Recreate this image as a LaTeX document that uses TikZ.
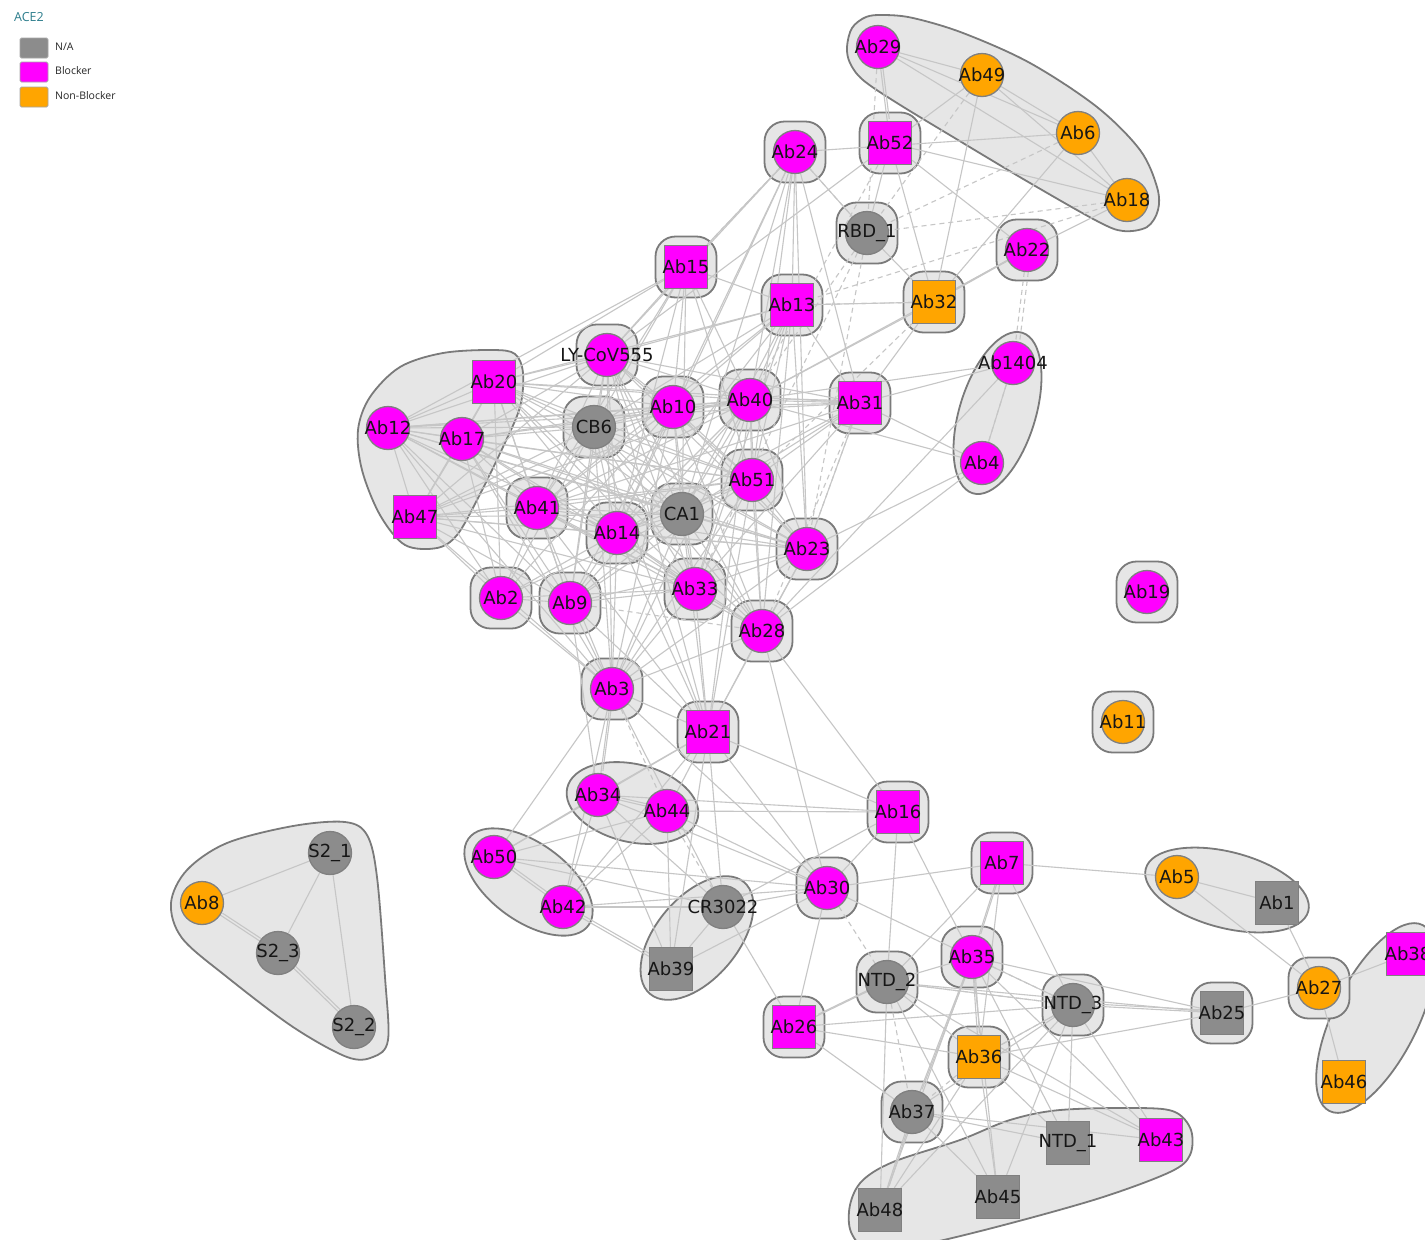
\documentclass[tikz,border=0pt]{standalone}
\usepackage{fontspec}
\setmainfont{DejaVu Sans}
\newfontfamily\legfont{Open Sans}
\pgfdeclarelayer{bg}
\pgfdeclarelayer{edgelayer}
\pgfsetlayers{bg,edgelayer,main}
\definecolor{mag}{HTML}{FF00FF}
\definecolor{org}{HTML}{FFA500}
\definecolor{gry}{HTML}{8C8C8C}
\definecolor{nbord}{HTML}{808080}
\definecolor{grpfill}{HTML}{E6E6E6}
\definecolor{grpedge}{HTML}{7A7A7A}
\definecolor{edgecol}{HTML}{C6C6C6}
\definecolor{labtext}{HTML}{161616}
\definecolor{acecol}{HTML}{2C7D8C}
\begin{document}
\begin{tikzpicture}[x=1pt,y=-1pt,
  nd/.style={minimum size=43pt, inner sep=0pt, draw=nbord, line width=1.3pt},
  cn/.style={nd, circle},
  sn/.style={nd, rectangle},
  mg/.style={fill=mag}, og/.style={fill=org}, gy/.style={fill=gry},
  labsty/.style={font=\fontsize{18}{20}\selectfont, text=labtext, inner sep=0pt},
  lbl/.style={label={[labsty]center:#1}},
  sqc/.style={rectangle, minimum size=61pt, rounded corners=20pt, fill=grpfill, draw=grpedge, line width=1.8pt},
  grp/.style={fill=grpfill, draw=grpedge, line width=1.8pt},
  edge/.style={draw=edgecol, line width=1.1pt},
  dedge/.style={edge, dash pattern=on 5pt off 4pt},
  swatch/.style={rectangle, minimum width=28pt, minimum height=20pt, inner sep=0pt, rounded corners=1.5pt, draw=gray!70, line width=0.8pt},
  legtext/.style={font=\legfont\fontsize{10.5}{12}\selectfont, text=black!85, anchor=west, inner sep=0pt}
]
\useasboundingbox (0,0) rectangle (1425,1240);

% ---------- nodes ----------
\node[cn,mg,lbl=Ab29] (Ab29) at (878,47) {};
\node[cn,og,lbl=Ab49] (Ab49) at (982,75) {};
\node[cn,og,lbl=Ab6] (Ab6) at (1078,133) {};
\node[cn,og,lbl=Ab18] (Ab18) at (1127,200) {};
\node[sn,mg,lbl=Ab52] (Ab52) at (890,143) {};
\node[cn,mg,lbl=Ab24] (Ab24) at (795,152) {};
\node[cn,gy,lbl={RBD\_1}] (RBD1) at (867,233) {};
\node[cn,mg,lbl=Ab22] (Ab22) at (1027,250) {};
\node[sn,mg,lbl=Ab15] (Ab15) at (686,267) {};
\node[sn,mg,lbl=Ab13] (Ab13) at (792,305) {};
\node[sn,og,lbl=Ab32] (Ab32) at (934,302) {};
\node[cn,mg,lbl=LY-CoV555] (LY) at (607,355) {};
\node[cn,mg,lbl=Ab1404] (Ab1404) at (1013,363) {};
\node[cn,mg,lbl=Ab4] (Ab4) at (982,463) {};
\node[sn,mg,lbl=Ab20] (Ab20) at (494,382) {};
\node[cn,mg,lbl=Ab12] (Ab12) at (388,428) {};
\node[cn,mg,lbl=Ab17] (Ab17) at (462,439) {};
\node[sn,mg,lbl=Ab47] (Ab47) at (415,517) {};
\node[cn,gy,lbl=CB6] (CB6) at (594,427) {};
\node[cn,mg,lbl=Ab10] (Ab10) at (673,407) {};
\node[cn,mg,lbl=Ab40] (Ab40) at (750,400) {};
\node[sn,mg,lbl=Ab31] (Ab31) at (860,403) {};
\node[cn,mg,lbl=Ab51] (Ab51) at (752,480) {};
\node[cn,gy,lbl=CA1] (CA1) at (682,514) {};
\node[cn,mg,lbl=Ab41] (Ab41) at (537,508) {};
\node[cn,mg,lbl=Ab14] (Ab14) at (617,533) {};
\node[cn,mg,lbl=Ab23] (Ab23) at (807,549) {};
\node[cn,mg,lbl=Ab2] (Ab2) at (501,598) {};
\node[cn,mg,lbl=Ab9] (Ab9) at (570,603) {};
\node[cn,mg,lbl=Ab33] (Ab33) at (695,589) {};
\node[cn,mg,lbl=Ab28] (Ab28) at (762,631) {};
\node[cn,mg,lbl=Ab3] (Ab3) at (612,689) {};
\node[sn,mg,lbl=Ab21] (Ab21) at (708,732) {};
\node[cn,mg,lbl=Ab19] (Ab19) at (1147,592) {};
\node[cn,og,lbl=Ab11] (Ab11) at (1123,722) {};
\node[cn,mg,lbl=Ab34] (Ab34) at (598,795) {};
\node[cn,mg,lbl=Ab44] (Ab44) at (667,811) {};
\node[sn,mg,lbl=Ab16] (Ab16) at (898,812) {};
\node[cn,mg,lbl=Ab50] (Ab50) at (494,857) {};
\node[cn,mg,lbl=Ab42] (Ab42) at (563,907) {};
\node[cn,gy,lbl=CR3022] (CR) at (723,907) {};
\node[sn,gy,lbl=Ab39] (Ab39) at (671,969) {};
\node[cn,mg,lbl=Ab30] (Ab30) at (827,888) {};
\node[sn,mg,lbl=Ab7] (Ab7) at (1002,863) {};
\node[cn,og,lbl=Ab5] (Ab5) at (1177,877) {};
\node[sn,gy,lbl=Ab1] (Ab1) at (1277,903) {};
\node[sn,mg,lbl=Ab38] (Ab38) at (1408,954) {};
\node[cn,og,lbl=Ab27] (Ab27) at (1319,988) {};
\node[sn,og,lbl=Ab46] (Ab46) at (1344,1082) {};
\node[sn,gy,lbl=Ab25] (Ab25) at (1222,1013) {};
\node[cn,gy,lbl={NTD\_2}] (NTD2) at (887,982) {};
\node[cn,mg,lbl=Ab35] (Ab35) at (972,957) {};
\node[cn,gy,lbl={NTD\_3}] (NTD3) at (1073,1005) {};
\node[sn,mg,lbl=Ab26] (Ab26) at (794,1027) {};
\node[sn,og,lbl=Ab36] (Ab36) at (979,1057) {};
\node[cn,gy,lbl=Ab37] (Ab37) at (912,1112) {};
\node[sn,gy,lbl={NTD\_1}] (NTD1) at (1068,1143) {};
\node[sn,mg,lbl=Ab43] (Ab43) at (1161,1140) {};
\node[sn,gy,lbl=Ab48] (Ab48) at (880,1210) {};
\node[sn,gy,lbl=Ab45] (Ab45) at (998,1197) {};
\node[cn,gy,lbl={S2\_1}] (S21) at (330,853) {};
\node[cn,og,lbl=Ab8] (Ab8) at (202,903) {};
\node[cn,gy,lbl={S2\_3}] (S23) at (278,953) {};
\node[cn,gy,lbl={S2\_2}] (S22) at (354,1027) {};

% ---------- legend ----------
\node[font=\legfont\fontsize{12.5}{14}\selectfont, text=acecol, anchor=west, inner sep=0pt] (legtitle) at (14,17) {ACE2};
\node[swatch, fill=gry] (sw1) at (34,48) {};
\node[swatch, fill=mag] (sw2) at (34,72) {};
\node[swatch, fill=org] (sw3) at (34,97) {};
\node[legtext] (lt1) at (55,47) {N/A};
\node[legtext] (lt2) at (55,71) {Blocker};
\node[legtext] (lt3) at (55,96) {Non-Blocker};

% ---------- groups ----------
\begin{pgfonlayer}{bg}
\fill[white] (0,0) rectangle (1425,1240);
% top group
\draw[grp] plot[smooth cycle, tension=0.55] coordinates {(847,47) (852,28) (866,17) (884,15) (913,18) (963,33) (1030,63) (1097,107) (1140,150) (1157,187) (1158,210) (1147,227) (1123,231) (1097,221) (1030,183) (963,143) (897,103) (863,80) (850,63)};
% Ab12 group
\draw[grp] plot[smooth cycle, tension=0.55] coordinates {(358,430) (370,397) (400,367) (443,353) (493,350) (515,354) (523,373) (520,407) (503,447) (477,500) (457,535) (437,548) (405,545) (380,515) (362,470)};
% S2 group
\draw[grp] plot[smooth cycle, tension=0.55] coordinates {(171,903) (187,870) (227,843) (293,826) (345,822) (367,835) (377,877) (385,977) (388,1040) (373,1057) (347,1057) (293,1027) (227,977) (182,938)};
% bottom group
\draw[grp] plot[smooth cycle, tension=0.55] coordinates {(850,1205) (862,1181) (893,1162) (960,1140) (1010,1120) (1060,1110) (1140,1108) (1175,1112) (1191,1130) (1190,1155) (1170,1172) (1100,1198) (1000,1226) (920,1245) (870,1250) (851,1232)};
% two-node groups (ellipses)
\draw[grp, rotate around={72.8:(997.5,413)}] (997.5,413) ellipse [x radius=84, y radius=38];
\draw[grp, rotate around={-13.1:(632.5,803)}] (632.5,803) ellipse [x radius=67, y radius=39];
\draw[grp, rotate around={-35.9:(528.5,882)}] (528.5,882) ellipse [x radius=74, y radius=39];
\draw[grp, rotate around={50:(697,938)}] (697,938) ellipse [x radius=73, y radius=41];
\draw[grp, rotate around={-14.6:(1227,890)}] (1227,890) ellipse [x radius=84, y radius=38];
\draw[grp, rotate around={63.4:(1376,1018)}] (1376,1018) ellipse [x radius=104, y radius=42];
% singleton groups
\foreach \n in {Ab52,Ab24,RBD1,Ab22,Ab15,Ab13,Ab32,LY,CB6,Ab10,Ab40,Ab31,Ab51,CA1,Ab41,Ab14,Ab23,Ab2,Ab9,Ab33,Ab28,Ab3,Ab21,Ab19,Ab11,Ab16,Ab30,Ab7,Ab25,Ab27,NTD2,Ab35,NTD3,Ab26,Ab36,Ab37}
  \node[sqc] (g\n) at (\n) {};
\end{pgfonlayer}

% ---------- edges ----------
\begin{pgfonlayer}{edgelayer}
% top group
\foreach \a/\b in {Ab29/Ab49,Ab29/Ab6,Ab29/Ab18,Ab49/Ab6,Ab49/Ab18,Ab6/Ab18,Ab29/Ab52,Ab24/Ab6,Ab52/Ab18,
  Ab49/Ab32,Ab6/Ab32,Ab18/Ab22,Ab52/Ab32,Ab52/RBD1,Ab52/Ab22,Ab49/LY,
  Ab24/Ab15,Ab24/Ab13,Ab24/RBD1,Ab24/Ab31,Ab24/Ab10,Ab24/Ab40,Ab24/LY,Ab24/Ab51,Ab24/CA1,Ab24/Ab23,Ab24/Ab14,
  Ab13/Ab32,Ab13/Ab31,Ab13/Ab40,Ab32/Ab40,Ab32/Ab31,Ab32/Ab22,RBD1/Ab32,Ab22/Ab40,
  Ab1404/Ab31,Ab1404/Ab40,Ab1404/Ab4,Ab1404/Ab28,Ab4/Ab31,Ab4/Ab40,Ab4/Ab28,Ab4/Ab23,
  Ab31/Ab40,Ab31/Ab10,Ab31/LY,Ab31/Ab51,Ab31/Ab23,Ab31/CA1,Ab31/Ab14,Ab31/Ab33,Ab31/Ab20,Ab31/Ab12,Ab31/Ab41}
  \draw[edge] (\a) -- (\b);
% central cluster
\foreach \a/\b in {Ab12/Ab17,Ab12/Ab20,Ab12/Ab47,Ab12/LY,Ab12/CB6,Ab12/Ab10,Ab12/Ab40,Ab12/Ab15,Ab12/Ab41,Ab12/Ab14,Ab12/CA1,Ab12/Ab51,Ab12/Ab23,Ab12/Ab2,Ab12/Ab9,Ab12/Ab33,Ab12/Ab3,
  Ab17/Ab20,Ab17/Ab47,Ab17/LY,Ab17/CB6,Ab17/Ab10,Ab17/Ab40,Ab17/Ab41,Ab17/Ab14,Ab17/CA1,Ab17/Ab51,Ab17/Ab23,Ab17/Ab9,Ab17/Ab33,Ab17/Ab3,Ab17/Ab2,
  Ab20/Ab47,Ab20/LY,Ab20/CB6,Ab20/Ab10,Ab20/Ab40,Ab20/Ab15,Ab20/Ab13,Ab20/Ab41,Ab20/Ab14,Ab20/CA1,Ab20/Ab51,Ab20/Ab23,Ab20/Ab2,Ab20/Ab9,Ab20/Ab33,Ab20/Ab28,
  Ab47/LY,Ab47/CB6,Ab47/Ab10,Ab47/Ab40,Ab47/Ab41,Ab47/Ab14,Ab47/CA1,Ab47/Ab51,Ab47/Ab23,Ab47/Ab2,Ab47/Ab9,Ab47/Ab33,Ab47/Ab3,
  LY/CB6,LY/Ab10,LY/Ab40,LY/Ab15,LY/Ab13,LY/Ab41,LY/Ab14,LY/CA1,LY/Ab51,LY/Ab23,LY/Ab9,LY/Ab33,LY/Ab28,LY/Ab3,LY/Ab21,
  CB6/Ab10,CB6/Ab40,CB6/Ab15,CB6/Ab13,CB6/Ab41,CB6/Ab14,CB6/CA1,CB6/Ab51,CB6/Ab23,CB6/Ab2,CB6/Ab9,CB6/Ab33,CB6/Ab28,CB6/Ab3,CB6/Ab21,
  Ab10/Ab40,Ab10/Ab15,Ab10/Ab13,Ab10/Ab41,Ab10/Ab14,Ab10/CA1,Ab10/Ab51,Ab10/Ab23,Ab10/Ab2,Ab10/Ab9,Ab10/Ab33,Ab10/Ab28,Ab10/Ab3,
  Ab40/Ab15,Ab40/Ab41,Ab40/Ab14,Ab40/CA1,Ab40/Ab51,Ab40/Ab23,Ab40/Ab9,Ab40/Ab33,Ab40/Ab28,Ab40/Ab3,Ab40/Ab21,
  Ab15/Ab13,Ab15/Ab41,Ab15/Ab14,Ab15/CA1,Ab15/Ab51,
  Ab13/Ab41,Ab13/Ab14,Ab13/CA1,Ab13/Ab51,Ab13/Ab23,Ab13/Ab33,Ab13/Ab28,
  Ab41/Ab14,Ab41/CA1,Ab41/Ab51,Ab41/Ab23,Ab41/Ab2,Ab41/Ab9,Ab41/Ab33,Ab41/Ab28,Ab41/Ab3,Ab41/Ab21,
  Ab14/CA1,Ab14/Ab51,Ab14/Ab23,Ab14/Ab2,Ab14/Ab9,Ab14/Ab33,Ab14/Ab28,Ab14/Ab3,Ab14/Ab21,
  CA1/Ab51,CA1/Ab23,CA1/Ab2,CA1/Ab9,CA1/Ab33,CA1/Ab28,CA1/Ab3,CA1/Ab21,
  Ab51/Ab23,Ab51/Ab9,Ab51/Ab33,Ab51/Ab28,Ab51/Ab3,Ab51/Ab21,
  Ab23/Ab9,Ab23/Ab33,Ab23/Ab28,Ab23/Ab3,Ab23/Ab21,
  Ab2/Ab9,Ab2/Ab33,Ab2/Ab3,Ab9/Ab33,Ab9/Ab3,Ab9/Ab21,Ab33/Ab28,Ab33/Ab3,Ab33/Ab21,Ab28/Ab3,Ab28/Ab21,Ab3/Ab21}
  \draw[edge] (\a) -- (\b);
% lower part
\foreach \a/\b in {Ab3/Ab34,Ab3/Ab50,Ab3/Ab42,Ab3/CR,Ab3/Ab30,
  Ab21/Ab34,Ab21/Ab44,Ab21/Ab50,Ab21/Ab42,Ab21/CR,Ab21/Ab39,Ab21/Ab30,Ab21/Ab16,
  Ab9/Ab34,Ab28/Ab16,Ab28/Ab30,
  Ab34/Ab44,Ab34/Ab50,Ab34/Ab42,Ab34/Ab39,Ab34/Ab16,Ab34/Ab30,Ab34/CR,
  Ab44/Ab50,Ab44/Ab42,Ab44/Ab16,Ab44/Ab30,Ab44/Ab39,
  Ab50/Ab42,Ab50/Ab30,Ab50/CR,Ab42/Ab30,Ab42/CR,Ab42/Ab39,
  CR/Ab39,CR/Ab30,CR/Ab16,CR/Ab26,Ab39/Ab30,
  Ab30/Ab16,Ab30/Ab7,Ab30/Ab26,Ab30/Ab35,Ab16/NTD2,Ab16/Ab35,
  Ab7/Ab35,Ab7/Ab36,Ab7/NTD2,Ab7/NTD3,Ab7/Ab5,
  Ab35/NTD2,Ab35/NTD3,Ab35/Ab36,Ab35/Ab37,Ab35/Ab48,Ab35/Ab45,Ab35/NTD1,Ab35/Ab43,Ab35/Ab25,
  NTD2/Ab26,NTD2/NTD3,NTD2/Ab36,NTD2/Ab48,NTD2/Ab45,NTD2/Ab25,NTD2/Ab43,
  NTD3/Ab25,NTD3/Ab37,NTD3/Ab48,NTD3/NTD1,NTD3/Ab43,NTD3/Ab26,NTD3/Ab36,NTD3/Ab45,
  Ab26/Ab36,Ab26/Ab37,
  Ab36/Ab45,Ab36/NTD1,Ab36/Ab43,Ab36/Ab25,Ab36/Ab48,
  Ab37/Ab48,Ab37/Ab45,Ab37/NTD1,Ab37/Ab43,
  Ab25/Ab27,Ab27/Ab5,Ab27/Ab1,Ab27/Ab38,Ab27/Ab46,Ab5/Ab1,
  Ab8/S21,Ab8/S23,S21/S23,S21/S22,S23/S22}
  \draw[edge] (\a) -- (\b);
% doubled lines (slight offset)
\foreach \a/\b in {Ab34/Ab44,Ab50/Ab42,Ab42/Ab39,Ab7/Ab35,Ab35/Ab37,Ab35/Ab36,NTD2/Ab26,Ab37/Ab48,Ab8/S23,S23/S22,NTD3/Ab25,Ab31/Ab40,Ab22/Ab32,Ab29/Ab52,Ab3/Ab34}
  \draw[edge, transform canvas={xshift=2pt,yshift=2pt}] (\a) -- (\b);
% dashed edges
\foreach \a/\b in {Ab29/RBD1,Ab49/RBD1,Ab6/RBD1,Ab18/RBD1,Ab24/Ab15,Ab24/RBD1,Ab52/Ab40,RBD1/Ab40,RBD1/Ab23,RBD1/Ab33,
  Ab32/Ab51,Ab32/Ab13,Ab31/Ab28,Ab31/Ab23,Ab22/Ab1404,Ab1404/Ab4,Ab3/Ab44,Ab44/CR,Ab9/Ab28,
  Ab30/NTD2,Ab35/NTD3,NTD2/NTD3,NTD2/Ab37,NTD3/Ab36,Ab36/Ab37,Ab18/Ab13}
  \draw[dedge] (\a) -- (\b);
\draw[dedge, transform canvas={xshift=4pt}] (Ab22) -- (Ab1404);
\end{pgfonlayer}
\end{tikzpicture}
\end{document}
